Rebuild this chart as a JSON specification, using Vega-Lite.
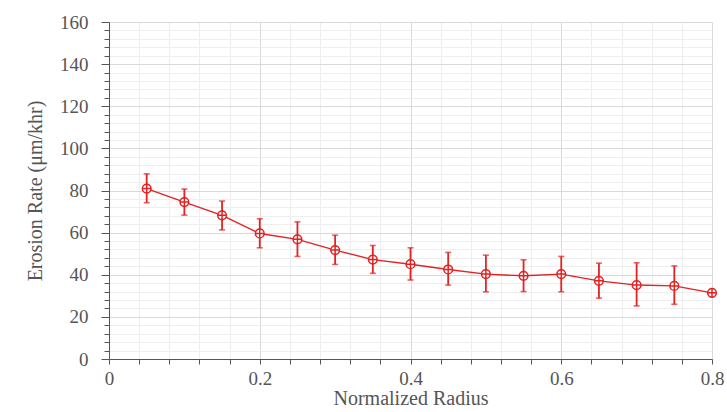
{
  "$schema": "https://vega.github.io/schema/vega-lite/v6.json",
  "width": 603,
  "height": 337,
  "autosize": "none",
  "padding": {"left": 109, "top": 22, "right": 15, "bottom": 53},
  "background": "white",
  "config": {
    "view": {"stroke": null},
    "axis": {
      "labelFont": "Liberation Serif",
      "titleFont": "Liberation Serif",
      "labelColor": "#555555",
      "titleColor": "#555555",
      "labelFontSize": 19,
      "titleFontSize": 20,
      "titleFontWeight": "normal",
      "domainColor": "#555555",
      "tickColor": "#555555",
      "labelOverlap": false,
      "labelFlush": false
    }
  },
  "data": {
    "values": [
      {"r": 0.05, "rate": 80.9, "lo": 74.2, "hi": 87.9},
      {"r": 0.1, "rate": 74.5, "lo": 68.3, "hi": 80.7},
      {"r": 0.15, "rate": 68.2, "lo": 61.3, "hi": 75.0},
      {"r": 0.2, "rate": 59.6, "lo": 52.8, "hi": 66.6},
      {"r": 0.25, "rate": 56.8, "lo": 48.7, "hi": 65.1},
      {"r": 0.3, "rate": 51.7, "lo": 44.9, "hi": 58.8},
      {"r": 0.35, "rate": 47.2, "lo": 40.7, "hi": 53.9},
      {"r": 0.4, "rate": 45.0, "lo": 37.5, "hi": 52.8},
      {"r": 0.45, "rate": 42.5, "lo": 35.1, "hi": 50.6},
      {"r": 0.5, "rate": 40.3, "lo": 31.9, "hi": 49.3},
      {"r": 0.55, "rate": 39.5, "lo": 32.0, "hi": 47.1},
      {"r": 0.6, "rate": 40.3, "lo": 31.9, "hi": 48.7},
      {"r": 0.65, "rate": 37.1, "lo": 28.9, "hi": 45.5},
      {"r": 0.7, "rate": 35.1, "lo": 25.2, "hi": 45.7},
      {"r": 0.75, "rate": 34.7, "lo": 26.0, "hi": 44.2},
      {"r": 0.8, "rate": 31.4, "lo": null, "hi": null}
    ]
  },
  "encoding": {
    "x": {
      "field": "r",
      "type": "quantitative",
      "scale": {"domain": [0, 0.8], "nice": false, "zero": false},
      "axis": {
        "title": "Normalized Radius",
        "values": [0, 0.04, 0.08, 0.12, 0.16, 0.2, 0.24, 0.28, 0.32, 0.36, 0.4, 0.44, 0.48, 0.52, 0.56, 0.6, 0.64, 0.68, 0.72, 0.76, 0.8],
        "labelExpr": "round(datum.value * 100) % 20 == 0 ? format(datum.value, '~g') : ''",
        "labelOverlap": false,
        "labelFlush": false,
        "grid": true,
        "gridColor": {"condition": {"test": "round(datum.value * 100) % 20 == 0", "value": "#d9d9d9"}, "value": "#eeeeee"},
        "tickSize": 5,
        "labelPadding": 5,
        "titlePadding": 0
      }
    }
  },
  "layer": [
    {
      "mark": {"type": "rule", "color": "#e32222", "strokeWidth": 1.8},
      "encoding": {
        "y": {
          "field": "lo",
          "type": "quantitative",
          "scale": {"domain": [0, 160], "nice": false},
          "axis": {
            "title": "Erosion Rate (μm/khr)",
            "values": [0, 4, 8, 12, 16, 20, 24, 28, 32, 36, 40, 44, 48, 52, 56, 60, 64, 68, 72, 76, 80, 84, 88, 92, 96, 100, 104, 108, 112, 116, 120, 124, 128, 132, 136, 140, 144, 148, 152, 156, 160],
            "labelExpr": "datum.value % 20 == 0 ? format(datum.value, 'd') : ''",
            "labelOverlap": false,
            "labelFlush": false,
            "grid": true,
            "gridColor": {"condition": {"test": "datum.value % 20 == 0", "value": "#d9d9d9"}, "value": "#eeeeee"},
            "tickSize": {"condition": {"test": "datum.value % 20 == 0", "value": 8}, "value": 5},
            "labelPadding": 13,
            "titlePadding": 14
          }
        },
        "y2": {"field": "hi"}
      }
    },
    {
      "mark": {"type": "tick", "orient": "horizontal", "size": 6, "thickness": 1.6, "color": "#e32222"},
      "encoding": {
        "y": {
          "field": "lo",
          "type": "quantitative",
          "axis": {
            "title": "Erosion Rate (μm/khr)",
            "values": [0, 4, 8, 12, 16, 20, 24, 28, 32, 36, 40, 44, 48, 52, 56, 60, 64, 68, 72, 76, 80, 84, 88, 92, 96, 100, 104, 108, 112, 116, 120, 124, 128, 132, 136, 140, 144, 148, 152, 156, 160],
            "labelExpr": "datum.value % 20 == 0 ? format(datum.value, 'd') : ''",
            "labelOverlap": false,
            "labelFlush": false,
            "grid": true,
            "gridColor": {"condition": {"test": "datum.value % 20 == 0", "value": "#d9d9d9"}, "value": "#eeeeee"},
            "tickSize": {"condition": {"test": "datum.value % 20 == 0", "value": 8}, "value": 5},
            "labelPadding": 13,
            "titlePadding": 14
          }
        }
      }
    },
    {
      "mark": {"type": "tick", "orient": "horizontal", "size": 6, "thickness": 1.6, "color": "#e32222"},
      "encoding": {
        "y": {
          "field": "hi",
          "type": "quantitative",
          "axis": {
            "title": "Erosion Rate (μm/khr)",
            "values": [0, 4, 8, 12, 16, 20, 24, 28, 32, 36, 40, 44, 48, 52, 56, 60, 64, 68, 72, 76, 80, 84, 88, 92, 96, 100, 104, 108, 112, 116, 120, 124, 128, 132, 136, 140, 144, 148, 152, 156, 160],
            "labelExpr": "datum.value % 20 == 0 ? format(datum.value, 'd') : ''",
            "labelOverlap": false,
            "labelFlush": false,
            "grid": true,
            "gridColor": {"condition": {"test": "datum.value % 20 == 0", "value": "#d9d9d9"}, "value": "#eeeeee"},
            "tickSize": {"condition": {"test": "datum.value % 20 == 0", "value": 8}, "value": 5},
            "labelPadding": 13,
            "titlePadding": 14
          }
        }
      }
    },
    {
      "mark": {"type": "line", "color": "#e32222", "strokeWidth": 1.4},
      "encoding": {
        "y": {
          "field": "rate",
          "type": "quantitative",
          "axis": {
            "title": "Erosion Rate (μm/khr)",
            "values": [0, 4, 8, 12, 16, 20, 24, 28, 32, 36, 40, 44, 48, 52, 56, 60, 64, 68, 72, 76, 80, 84, 88, 92, 96, 100, 104, 108, 112, 116, 120, 124, 128, 132, 136, 140, 144, 148, 152, 156, 160],
            "labelExpr": "datum.value % 20 == 0 ? format(datum.value, 'd') : ''",
            "labelOverlap": false,
            "labelFlush": false,
            "grid": true,
            "gridColor": {"condition": {"test": "datum.value % 20 == 0", "value": "#d9d9d9"}, "value": "#eeeeee"},
            "tickSize": {"condition": {"test": "datum.value % 20 == 0", "value": 8}, "value": 5},
            "labelPadding": 13,
            "titlePadding": 14
          }
        }
      }
    },
    {
      "mark": {
        "type": "point",
        "shape": "M-1,0A1,1,0,1,1,1,0A1,1,0,1,1,-1,0ZM-1,0L1,0M0,-1L0,1",
        "size": 76,
        "filled": true,
        "fill": "white",
        "stroke": "#e32222",
        "strokeWidth": 1.5,
        "opacity": 1
      },
      "encoding": {
        "y": {
          "field": "rate",
          "type": "quantitative",
          "axis": {
            "title": "Erosion Rate (μm/khr)",
            "values": [0, 4, 8, 12, 16, 20, 24, 28, 32, 36, 40, 44, 48, 52, 56, 60, 64, 68, 72, 76, 80, 84, 88, 92, 96, 100, 104, 108, 112, 116, 120, 124, 128, 132, 136, 140, 144, 148, 152, 156, 160],
            "labelExpr": "datum.value % 20 == 0 ? format(datum.value, 'd') : ''",
            "labelOverlap": false,
            "labelFlush": false,
            "grid": true,
            "gridColor": {"condition": {"test": "datum.value % 20 == 0", "value": "#d9d9d9"}, "value": "#eeeeee"},
            "tickSize": {"condition": {"test": "datum.value % 20 == 0", "value": 8}, "value": 5},
            "labelPadding": 13,
            "titlePadding": 14
          }
        }
      }
    }
  ]
}
